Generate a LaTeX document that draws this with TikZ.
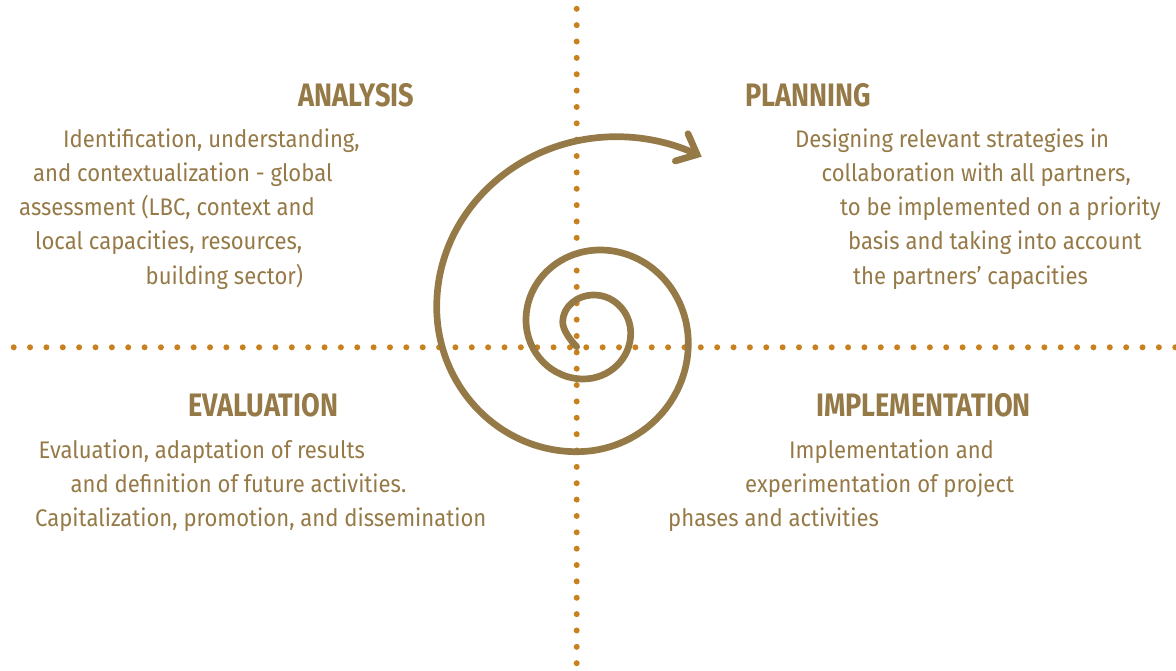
\documentclass[tikz,border=0pt]{standalone}
\usepackage{fontspec}
\setmainfont{Fira Sans}[FakeStretch=0.92]
\newfontfamily\headfont{Fira Sans}[FakeStretch=0.835]
\usetikzlibrary{arrows.meta}
\definecolor{spiralbrown}{HTML}{957A47}
\definecolor{dotorange}{HTML}{C9811F}

\tikzset{
  headline/.style={anchor=base west, inner sep=0pt, text=spiralbrown,
    font=\headfont\bfseries\fontsize{32.5}{34}\selectfont},
  bodyline/.style={anchor=base west, inner sep=0pt, text=spiralbrown,
    font=\fontsize{24}{34}\selectfont},
  spiral/.style={draw=spiralbrown, line width=6.7pt, line cap=round, line join=round},
}

\begin{document}
\begin{tikzpicture}[x=1pt, y=-1pt]
\useasboundingbox (0,0) rectangle (1176,671);

% dotted axes
\foreach \i in {0,...,71}
  \fill[dotorange] (13.7+16.36*\i, 347.3) circle (3pt);
\foreach \i in {0,...,40}
  \fill[dotorange] (576.7, 8.8+16.36*\i) circle (3pt);

% spiral, one quarter turn per segment
\draw[spiral, -{Straight Barb[length=17pt, width=30pt, line cap=round]}]
  (576.7,346.7) .. controls (570.7,340.7) and (562.7,330) .. (562.7,322)
  .. controls (562.7,307.1) and (576.7,295) .. (594,295)
  .. controls (614.3,295) and (630.7,312.2) .. (630.7,333.3)
  .. controls (630.7,358.5) and (609.5,379) .. (583.3,379)
  .. controls (551.7,379) and (526,352.6) .. (526,320)
  .. controls (526,281.4) and (559.2,250) .. (600,250)
  .. controls (648.7,250) and (688.3,291.8) .. (688.3,343.3)
  .. controls (688.3,403.1) and (638.3,451.7) .. (576.7,451.7)
  .. controls (499.4,451.7) and (436.7,386.7) .. (436.7,306.7)
  .. controls (436.7,212.9) and (517.3,136.7) .. (616.7,136.7)
  .. controls (646.7,136.7) and (674.5,144) .. (701.7,156.7);

% analysis
\node[headline] (ana) at (298,107) {ANALYSIS};
\node[bodyline] (ana1) at (63,148) {Identification, understanding,};
\node[bodyline] (ana2) at (33,182) {and contextualization - global};
\node[bodyline] (ana3) at (19,216) {assessment (LBC, context and};
\node[bodyline] (ana4) at (35,250) {local capacities, resources,};
\node[bodyline] (ana5) at (145.5,284) {building sector)};

% planning
\node[headline] (plan) at (745,107) {PLANNING};
\node[bodyline] (plan1) at (795,148) {Designing relevant strategies in};
\node[bodyline] (plan2) at (821.5,182) {collaboration with all partners,};
\node[bodyline] (plan3) at (840,216) {to be implemented on a priority};
\node[bodyline] (plan4) at (848,250) {basis and taking into account};
\node[bodyline] (plan5) at (853,284) {the partners' capacities};

% evaluation
\node[headline] (eval) at (188,416.5) {EVALUATION};
\node[bodyline] (eval1) at (38.5,458.3) {Evaluation, adaptation of results};
\node[bodyline] (eval2) at (70.5,492.3) {and definition of future activities.};
\node[bodyline] (eval3) at (35,526.3) {Capitalization, promotion, and dissemination};

% implementation
\node[headline] (impl) at (816,416.5) {IMPLEMENTATION};
\node[bodyline] (impl1) at (789,458.3) {Implementation and};
\node[bodyline] (impl2) at (745,492.3) {experimentation of project};
\node[bodyline] (impl3) at (668,526.3) {phases and activities};
\end{tikzpicture}
\end{document}
